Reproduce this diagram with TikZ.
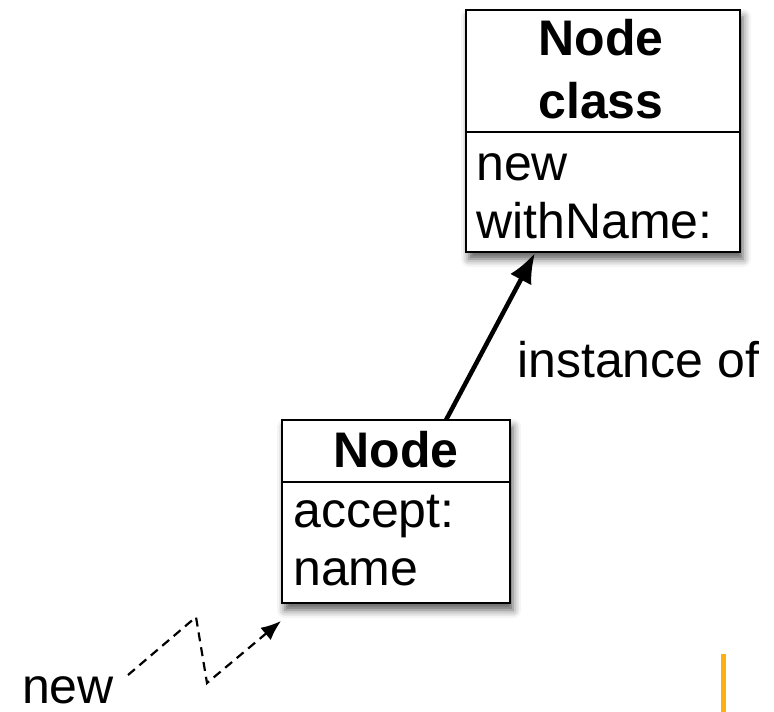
\documentclass[tikz,border=0pt]{standalone}
\usepackage{fontspec}
\setmainfont{Liberation Sans}
\usetikzlibrary{arrows.meta,shadows.blur}
\definecolor{barorange}{HTML}{FFB010}
\tikzset{
  classbox/.style={draw=black, line width=2pt, fill=white, inner sep=0pt,
    blur shadow={shadow xshift=3pt, shadow yshift=-7pt, shadow blur radius=8pt, shadow opacity=65}},
  divider/.style={draw=black, line width=2pt},
  title/.style={font=\fontsize{50}{60}\selectfont\bfseries, inner sep=0pt, anchor=base},
  member/.style={font=\fontsize{50}{60}\selectfont, inner sep=0pt, anchor=base west},
  plain/.style={font=\fontsize{50}{60}\selectfont, inner sep=0pt},
  instarrow/.style={draw=black, line width=4.5pt, -{Latex[length=30pt,width=24pt]}},
  msgarrow/.style={draw=black, line width=2.2pt, dash pattern=on 9pt off 6pt,
    -{Latex[length=20pt,width=16pt]}}
}
\begin{document}
\begin{tikzpicture}[x=1pt,y=-1pt]
  \useasboundingbox (0,0) rectangle (774,712);

  % class-side box
  \node[classbox, minimum width=274pt, minimum height=242pt] (cls) at (603,131) {};
  \coordinate (clsdivl) at (466,132);
  \coordinate (clsdivr) at (740,132);
  \draw[divider] (clsdivl) -- (clsdivr);
  \node[title] (clsname1) at (601,55) {Node};
  \node[title] (clsname2) at (601,118) {class};
  \node[member] (clsnew) at (476,180) {new};
  \node[member] (clswith) at (476,238) {withName:};

  % instance box
  \node[classbox, minimum width=228pt, minimum height=183pt] (inst) at (396,511.5) {};
  \coordinate (instdivl) at (282,482);
  \coordinate (instdivr) at (510,482);
  \draw[divider] (instdivl) -- (instdivr);
  \node[title] (instname) at (396,467) {Node};
  \node[member] (instaccept) at (293,527) {accept:};
  \node[member] (instnamefld) at (293,585) {name};

  % instance-of link
  \coordinate (linkfrom) at (446,420);
  \coordinate (linkto) at (535,253);
  \draw[instarrow] (linkfrom) -- (linkto);
  \node[member] (linklabel) at (517,377) {instance of};

  % message send
  \node[plain, anchor=base west] (newmsg) at (22,703) {new};
  \coordinate (zz1) at (128,675);
  \coordinate (zz2) at (196,617);
  \coordinate (zz3) at (207,683);
  \coordinate (zz4) at (281,621);
  \draw[msgarrow] (zz1) -- (zz2) -- (zz3) -- (zz4);

  % orange marker bar
  \fill[barorange] (721,654) rectangle (726,712);
\end{tikzpicture}
\end{document}
